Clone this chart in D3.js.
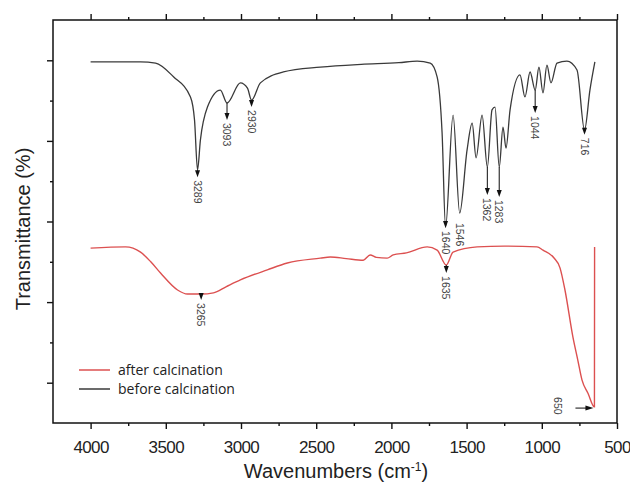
<!DOCTYPE html>
<html>
<head>
<meta charset="utf-8">
<script src="https://cdn.jsdelivr.net/npm/d3@7"></script>
<style>
  body { margin: 0; background: #fff; }
  svg { display: block; }
</style>
</head>
<body>
<div id="chart"></div>
<script>
// FTIR spectra, before and after calcination
const beforeWn = [4000, 3668, 3568, 3449, 3336, 3309, 3289, 3270, 3223, 3137, 3093, 3004, 2957, 2930, 2871, 2718, 2473, 2200, 1950, 1829, 1742, 1696, 1663, 1640, 1590, 1546, 1497, 1463, 1437, 1397, 1362, 1331, 1311, 1283, 1258, 1238, 1211, 1145, 1112, 1078, 1044, 1019, 992, 966, 939, 899, 833, 766, 716, 680, 647];
const beforeT  = [89.6, 89.6, 89.3, 85.9, 80.9, 75.2, 62.8, 70.2, 78.4, 82.6, 79.4, 84.4, 83.1, 80.1, 84.4, 87.1, 88.3, 89.0, 89.4, 89.8, 89.3, 85.9, 72.0, 48.6, 76.4, 52.1, 67.7, 74.4, 65.8, 76.4, 63.5, 77.7, 78.4, 63.5, 73.4, 68.2, 77.7, 86.4, 80.9, 87.1, 82.6, 88.3, 81.9, 88.8, 84.4, 89.3, 89.8, 87.6, 72.7, 82.6, 89.6];

const afterWn = [4000, 3768, 3668, 3600, 3535, 3422, 3356, 3265, 3183, 3100, 3004, 2825, 2692, 2473, 2406, 2300, 2187, 2141, 2100, 2028, 1988, 1900, 1762, 1696, 1635, 1590, 1430, 1250, 1032, 992, 920, 879, 846, 793, 760, 733, 693, 650, 649];
const afterT  = [43.4, 43.7, 42.4, 40.0, 37.2, 33.0, 32.0, 32.0, 32.3, 33.8, 35.5, 38.0, 39.7, 40.9, 41.2, 40.8, 40.4, 41.7, 41.1, 40.9, 41.7, 42.2, 43.7, 42.9, 39.2, 42.4, 43.7, 43.9, 43.7, 42.9, 41.0, 38.5, 33.0, 21.3, 15.5, 10.7, 7.4, 4.0, 43.7];

// peak marks: wavenumber, arrow tip value
const beforePeaks = [3289, 3093, 2930, 1640, 1546, 1362, 1283, 1044, 716];
const beforeTips  = [61.0, 75.2, 78.4, 48.4, 50.4, 56.6, 56.1, 76.9, 71.5];
const beforeArrow = [true, true, true, true, false, true, true, true, true];
const afterPeaks = [3265, 1635];
const afterTips  = [30.5, 37.2];
const edgePeak = 650, edgeTip = 3.7;

const xTicks = [4000, 3500, 3000, 2500, 2000, 1500, 1000, 500];
const xMinor = [3750, 3250, 2750, 2250, 1750, 1250, 750];
const yTicks = [10, 30, 50, 70, 90];
const yMinor = [20, 40, 60, 80];

const width = 630, height = 488;
const margin = {top: 20, right: 13, bottom: 65, left: 53};

const svg = d3.select('#chart').append('svg')
    .attr('width', width)
    .attr('height', height);

const x = d3.scaleLinear().domain([4250, 500]).range([margin.left, width - margin.right]);
const y = d3.scaleLinear().domain([0, 100]).range([height - margin.bottom, margin.top]);

// tick-only axes
function tickAxis(axis, vals, size, tr) {
    const g = svg.append('g').attr('transform', tr)
        .call(axis.tickValues(vals).tickSize(size).tickFormat(''));
    g.select('.domain').remove();
    g.selectAll('line').attr('stroke', '#111').attr('stroke-width', 1.4);
    return g;
}
const bottomY = height - margin.bottom;
tickAxis(d3.axisTop(x), xTicks, 6, `translate(0,${margin.top})`);
tickAxis(d3.axisTop(x), xMinor, 3, `translate(0,${margin.top})`);
tickAxis(d3.axisBottom(x), xMinor, 3, `translate(0,${bottomY})`);
tickAxis(d3.axisLeft(y), yTicks, 6, `translate(${margin.left},0)`);
tickAxis(d3.axisLeft(y), yMinor, 3, `translate(${margin.left},0)`);

const xAxis = svg.append('g')
    .attr('transform', `translate(0,${bottomY})`)
    .call(d3.axisBottom(x).tickValues(xTicks).tickFormat(d3.format('d')).tickSize(6).tickPadding(12));
xAxis.select('.domain').remove();
xAxis.selectAll('line').attr('stroke', '#111').attr('stroke-width', 1.4);
xAxis.selectAll('text')
    .attr('fill', '#222')
    .style('font-family', 'Liberation Sans, Arial, sans-serif')
    .style('font-size', '17px')
    .style('letter-spacing', '-0.6px');

// frame
svg.append('rect')
    .attr('x', margin.left).attr('y', margin.top)
    .attr('width', width - margin.right - margin.left)
    .attr('height', bottomY - margin.top)
    .attr('fill', 'none')
    .attr('stroke', '#111')
    .attr('stroke-width', 1.5);

// axis titles
svg.append('text')
    .attr('x', 336).attr('y', 478)
    .attr('text-anchor', 'middle')
    .attr('fill', '#222')
    .style('font-family', 'Liberation Sans, Arial, sans-serif')
    .style('font-size', '20px')
    .html('Wavenumbers (cm<tspan dy="-7" font-size="12">-1</tspan><tspan dy="7">)</tspan>');

svg.append('text')
    .attr('transform', 'translate(30,229) rotate(-90)')
    .attr('text-anchor', 'middle')
    .attr('fill', '#222')
    .style('font-family', 'Liberation Sans, Arial, sans-serif')
    .style('font-size', '20px')
    .text('Transmittance (%)');

// spectra
const before = beforeWn.map((w, i) => [w, beforeT[i]]);
const after = afterWn.map((w, i) => [w, afterT[i]]);
const line = d3.line().x(d => x(d[0])).y(d => y(d[1])).curve(d3.curveMonotoneX);

svg.append('path')
    .datum(before)
    .attr('fill', 'none')
    .attr('stroke', '#3a3a3a')
    .attr('stroke-width', 1.3)
    .attr('d', line);

svg.append('path')
    .datum(after)
    .attr('fill', 'none')
    .attr('stroke', '#dc5050')
    .attr('stroke-width', 1.4)
    .attr('d', line);

// value of a series at wavenumber w
function valueAt(wn, t, w) {
    for (let i = 0; i < wn.length - 1; i++) {
        if (w <= wn[i] && w >= wn[i + 1]) {
            const f = (wn[i] - w) / (wn[i] - wn[i + 1]);
            return t[i] + f * (t[i + 1] - t[i]);
        }
    }
    return t[t.length - 1];
}

const ann = svg.append('g');
function peakMark(w, tip, from, arrow) {
    const px = x(w), ty = y(tip), fy = y(from);
    if (arrow) {
        ann.append('line')
            .attr('x1', px).attr('x2', px)
            .attr('y1', Math.min(fy, ty - 7)).attr('y2', ty - 5)
            .attr('stroke', '#222').attr('stroke-width', 1.1);
        ann.append('path')
            .attr('d', `M${px - 2.5},${ty - 7}L${px + 2.5},${ty - 7}L${px},${ty}Z`)
            .attr('fill', '#111');
    }
    ann.append('text')
        .attr('transform', `translate(${px},${ty + 3}) rotate(90)`)
        .attr('dominant-baseline', 'central')
        .attr('fill', '#444')
        .style('font-family', 'Liberation Sans, Arial, sans-serif')
        .style('font-size', '10.5px')
        .text(w);
}
beforePeaks.forEach((w, i) => peakMark(w, beforeTips[i], valueAt(beforeWn, beforeT, w), beforeArrow[i]));
afterPeaks.forEach((w, i) => peakMark(w, afterTips[i], valueAt(afterWn, afterT, w), true));

// 650 edge arrow, horizontal
const ex = x(edgePeak) - 1, ey = y(edgeTip);
ann.append('line')
    .attr('x1', ex - 18).attr('x2', ex - 6)
    .attr('y1', ey).attr('y2', ey)
    .attr('stroke', '#222').attr('stroke-width', 1.1);
ann.append('path')
    .attr('d', `M${ex - 8},${ey - 2.5}L${ex - 8},${ey + 2.5}L${ex},${ey}Z`)
    .attr('fill', '#111');
ann.append('text')
    .attr('transform', `translate(${ex - 35},${ey - 11}) rotate(90)`)
    .attr('dominant-baseline', 'central')
    .attr('fill', '#444')
    .style('font-family', 'Liberation Sans, Arial, sans-serif')
    .style('font-size', '10.5px')
    .text(edgePeak);

// legend
const legend = svg.append('g').attr('transform', 'translate(79,370)');
const items = [['after calcination', '#dc5050'], ['before calcination', '#3a3a3a']];
items.forEach((d, i) => {
    const g = legend.append('g').attr('transform', `translate(0,${i * 19})`);
    g.append('line').attr('x1', 0).attr('x2', 31)
        .attr('stroke', d[1]).attr('stroke-width', 1.5);
    g.append('text').attr('x', 39).attr('y', 5)
        .attr('fill', '#222')
        .style('font-family', 'Open Sans, sans-serif')
        .style('font-size', '14px')
        .text(d[0]);
});
</script>
</body>
</html>
